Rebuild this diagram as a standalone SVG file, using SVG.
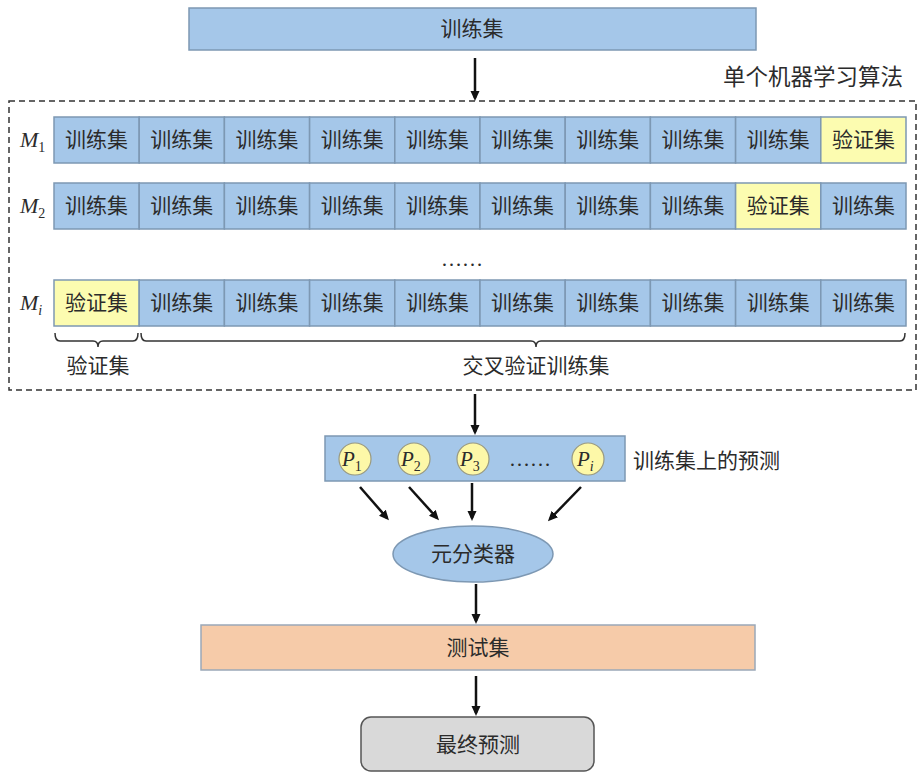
<svg xmlns="http://www.w3.org/2000/svg" width="918" height="777" viewBox="0 0 918 777">
<style>
text{font-family:"Liberation Serif","Noto Sans CJK SC",serif;fill:#2b2b2b;}
.t{font-size:21px;text-anchor:middle;}
.tr{fill:#a5c7e9;stroke:#7d98b3;stroke-width:1.5;}
.va{fill:#fcfcb0;stroke:#7d98b3;stroke-width:1.5;}
.m{font-size:22px;font-style:italic;}
.s{font-size:14px;font-style:normal;}
.si{font-size:14px;font-style:italic;}
.p{fill:#fdf8a8;stroke:#9a9a80;stroke-width:1.2;}
.pt{font-size:21px;font-style:italic;}
.ar{stroke:#111;stroke-width:2.5;fill:none;marker-end:url(#ah);}
.br{stroke:#333;stroke-width:1.5;fill:none;}
</style>
<defs>
<marker id="ah" markerWidth="10" markerHeight="10" refX="7" refY="5" orient="auto" markerUnits="userSpaceOnUse" viewBox="0 0 10 10">
<path d="M0,0.5 L10,5 L0,9.5 z" fill="#111"/>
</marker>
</defs>
<rect width="918" height="777" fill="#fff"/>

<g id="train-top">
<rect x="189" y="8" width="567" height="42" class="tr"/>
<text x="472" y="36" class="t">训练集</text>
</g>

<text x="903" y="85" style="font-size:22.5px;text-anchor:end">单个机器学习算法</text>

<g id="algo-box">
<rect x="9" y="101" width="907" height="289" fill="none" stroke="#333" stroke-width="1.5" stroke-dasharray="6,4"/>
</g>

<g id="row-m1">
<text x="20" y="147" class="m">M<tspan class="s" dy="5">1</tspan></text>
<rect x="54" y="117" width="85.2" height="46" class="tr"/>
<rect x="139.2" y="117" width="85.2" height="46" class="tr"/>
<rect x="224.4" y="117" width="85.2" height="46" class="tr"/>
<rect x="309.6" y="117" width="85.2" height="46" class="tr"/>
<rect x="394.8" y="117" width="85.2" height="46" class="tr"/>
<rect x="480" y="117" width="85.2" height="46" class="tr"/>
<rect x="565.2" y="117" width="85.2" height="46" class="tr"/>
<rect x="650.4" y="117" width="85.2" height="46" class="tr"/>
<rect x="735.6" y="117" width="85.2" height="46" class="tr"/>
<rect x="820.8" y="117" width="85.2" height="46" class="va"/>
<text x="96.6" y="147" class="t">训练集</text>
<text x="181.8" y="147" class="t">训练集</text>
<text x="267" y="147" class="t">训练集</text>
<text x="352.2" y="147" class="t">训练集</text>
<text x="437.4" y="147" class="t">训练集</text>
<text x="522.6" y="147" class="t">训练集</text>
<text x="607.8" y="147" class="t">训练集</text>
<text x="693" y="147" class="t">训练集</text>
<text x="778.2" y="147" class="t">训练集</text>
<text x="863.4" y="147" class="t">验证集</text>
</g>

<g id="row-m2">
<text x="20" y="213" class="m">M<tspan class="s" dy="5">2</tspan></text>
<rect x="54" y="183" width="85.2" height="46" class="tr"/>
<rect x="139.2" y="183" width="85.2" height="46" class="tr"/>
<rect x="224.4" y="183" width="85.2" height="46" class="tr"/>
<rect x="309.6" y="183" width="85.2" height="46" class="tr"/>
<rect x="394.8" y="183" width="85.2" height="46" class="tr"/>
<rect x="480" y="183" width="85.2" height="46" class="tr"/>
<rect x="565.2" y="183" width="85.2" height="46" class="tr"/>
<rect x="650.4" y="183" width="85.2" height="46" class="tr"/>
<rect x="735.6" y="183" width="85.2" height="46" class="va"/>
<rect x="820.8" y="183" width="85.2" height="46" class="tr"/>
<text x="96.6" y="213" class="t">训练集</text>
<text x="181.8" y="213" class="t">训练集</text>
<text x="267" y="213" class="t">训练集</text>
<text x="352.2" y="213" class="t">训练集</text>
<text x="437.4" y="213" class="t">训练集</text>
<text x="522.6" y="213" class="t">训练集</text>
<text x="607.8" y="213" class="t">训练集</text>
<text x="693" y="213" class="t">训练集</text>
<text x="778.2" y="213" class="t">验证集</text>
<text x="863.4" y="213" class="t">训练集</text>
</g>

<text x="462" y="266" class="t">……</text>

<g id="row-mi">
<text x="20" y="310" class="m">M<tspan class="si" dy="5">i</tspan></text>
<rect x="54" y="280" width="85.2" height="46" class="va"/>
<rect x="139.2" y="280" width="85.2" height="46" class="tr"/>
<rect x="224.4" y="280" width="85.2" height="46" class="tr"/>
<rect x="309.6" y="280" width="85.2" height="46" class="tr"/>
<rect x="394.8" y="280" width="85.2" height="46" class="tr"/>
<rect x="480" y="280" width="85.2" height="46" class="tr"/>
<rect x="565.2" y="280" width="85.2" height="46" class="tr"/>
<rect x="650.4" y="280" width="85.2" height="46" class="tr"/>
<rect x="735.6" y="280" width="85.2" height="46" class="tr"/>
<rect x="820.8" y="280" width="85.2" height="46" class="tr"/>
<text x="96.6" y="310" class="t">验证集</text>
<text x="181.8" y="310" class="t">训练集</text>
<text x="267" y="310" class="t">训练集</text>
<text x="352.2" y="310" class="t">训练集</text>
<text x="437.4" y="310" class="t">训练集</text>
<text x="522.6" y="310" class="t">训练集</text>
<text x="607.8" y="310" class="t">训练集</text>
<text x="693" y="310" class="t">训练集</text>
<text x="778.2" y="310" class="t">训练集</text>
<text x="863.4" y="310" class="t">训练集</text>
</g>

<g id="brace-val">
<path class="br" d="M55,333 Q55,341 60,341 L93,341 Q98,341 98,347 Q98,341 103,341 L133,341 Q138,341 138,333"/>
<text x="98" y="373" class="t">验证集</text>
</g>
<g id="brace-train">
<path class="br" d="M141,333 Q141,341 146,341 L531,341 Q536,341 536,347 Q536,341 541,341 L900,341 Q905,341 905,333"/>
<text x="536" y="373" class="t">交叉验证训练集</text>
</g>

<g id="pred-box">
<rect x="325" y="436" width="300" height="45" class="tr"/>
<circle cx="355" cy="459" r="16" class="p"/>
<circle cx="414" cy="459" r="16" class="p"/>
<circle cx="473" cy="459" r="16" class="p"/>
<circle cx="588" cy="459" r="16" class="p"/>
<text x="342" y="466" class="pt">P<tspan class="s" dy="5">1</tspan></text>
<text x="401" y="466" class="pt">P<tspan class="s" dy="5">2</tspan></text>
<text x="460" y="466" class="pt">P<tspan class="s" dy="5">3</tspan></text>
<text x="577" y="466" class="pt">P<tspan class="si" dy="5">i</tspan></text>
<text x="530" y="466" class="t">……</text>
</g>
<text x="633" y="468" style="font-size:21px">训练集上的预测</text>

<g id="meta">
<ellipse cx="473" cy="554" rx="80" ry="28" fill="#a5c7e9" stroke="#7d98b3" stroke-width="1.5"/>
<text x="473" y="561" class="t">元分类器</text>
</g>

<g id="test">
<rect x="201" y="625" width="554" height="45" fill="#f6cba9" stroke="#9aa8b8" stroke-width="1.5"/>
<text x="478" y="655" class="t">测试集</text>
</g>

<g id="final">
<rect x="361" y="717" width="233" height="54" rx="10" fill="#d9d9d9" stroke="#555" stroke-width="1.5"/>
<text x="478" y="752" class="t">最终预测</text>
</g>

<g id="connectors">
<line x1="475" y1="58" x2="475" y2="98" class="ar"/>
<line x1="475" y1="394" x2="475" y2="432" class="ar"/>
<line x1="360" y1="487" x2="387" y2="518" class="ar"/>
<line x1="409" y1="487" x2="437" y2="518" class="ar"/>
<line x1="472" y1="483" x2="472" y2="518" class="ar"/>
<line x1="581" y1="487" x2="550" y2="519" class="ar"/>
<line x1="476" y1="584" x2="476" y2="621" class="ar"/>
<line x1="476" y1="676" x2="476" y2="713" class="ar"/>
</g>
</svg>
